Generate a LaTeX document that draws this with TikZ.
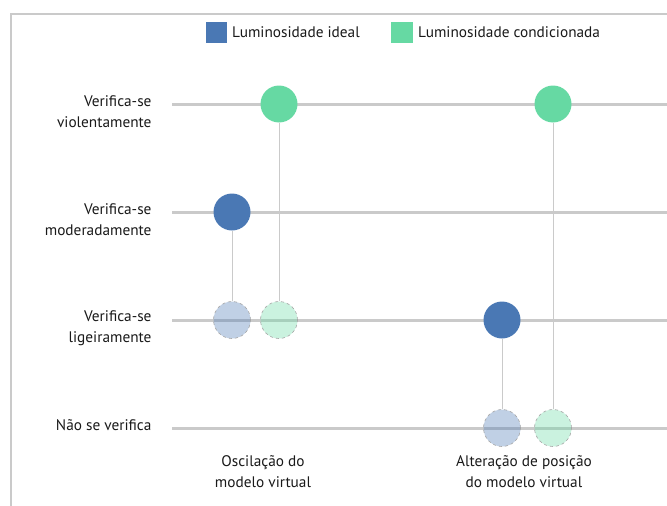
\documentclass[tikz,border=0pt]{standalone}
\usepackage{fontspec}
\setmainfont{PT Sans}
\usetikzlibrary{positioning}
\definecolor{ideal}{HTML}{4A78B4}
\definecolor{cond}{HTML}{66D9A3}
\definecolor{grade}{HTML}{CACACA}

\tikzset{
  nivel/.style={draw=grade, line width=3pt},
  haste/.style={draw=grade, line width=0.8pt},
  ponto/.style={circle, minimum size=37pt, inner sep=0pt},
  fraco/.style={ponto, draw=gray!70, dashed, line width=0.6pt, fill opacity=0.35},
  rotulo/.style={anchor=east, align=right, font=\fontsize{15.3}{21}\selectfont, text=black!90},
  legenda/.style={anchor=west, inner sep=0pt, font=\fontsize{15.3}{18}\selectfont, text=black!90},
}

\begin{document}
\begin{tikzpicture}[x=1pt,y=-1pt]
\useasboundingbox (0,0) rectangle (667,506);
% moldura
\draw[grade, line width=2pt] (11,506) -- (11,14) -- (667,14);

% legenda
\fill[ideal] (206,22) rectangle (227,43);
\node[legenda] (legA) at (232,32) {Luminosidade ideal};
\fill[cond] (391,22) rectangle (413,43);
\node[legenda] (legB) at (418,32) {Luminosidade condicionada};

% niveis
\foreach \y/\nome in {104/v,212/m,320/l,428/n}
  \draw[nivel] (172,\y) -- (667,\y);
\node[rotulo] (rv) at (155,112) {Verifica-se\\violentamente};
\node[rotulo] (rm) at (155,220) {Verifica-se\\moderadamente};
\node[rotulo] (rl) at (155,328) {Verifica-se\\ligeiramente};
\node[rotulo] (rn) at (155,425) {Não se verifica};

% oscilacao
\node[ponto, fill=ideal] (a1) at (232,212) {};
\node[fraco, fill=ideal] (a0) at (232,320) {};
\node[ponto, fill=cond] (b1) at (279,104) {};
\node[fraco, fill=cond] (b0) at (279,320) {};
\draw[haste] (a1) -- (a0);
\draw[haste] (b1) -- (b0);

% alteracao de posicao
\node[ponto, fill=ideal] (c1) at (502,320) {};
\node[fraco, fill=ideal] (c0) at (502,428) {};
\node[ponto, fill=cond] (d1) at (553,104) {};
\node[fraco, fill=cond] (d0) at (553,428) {};
\draw[haste] (c1) -- (c0);
\draw[haste] (d1) -- (d0);

\node[rotulo, anchor=center, align=center] (osc) at (263,472) {Oscilação do\\modelo virtual};
\node[rotulo, anchor=center, align=center] (alt) at (524,472) {Alteração de posição\\do modelo virtual};
\end{tikzpicture}
\end{document}
